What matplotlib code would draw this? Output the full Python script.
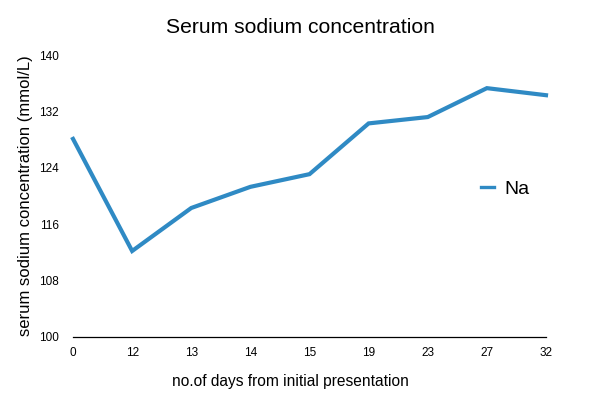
import matplotlib.pyplot as plt

plt.rcParams['font.family'] = ['Liberation Sans', 'DejaVu Sans']

days = ["0", "12", "13", "14", "15", "19", "23", "27", "32"]
sodium = [128.1, 112.2, 118.3, 121.3, 123.1, 130.3, 131.2, 135.3, 134.3]
yticks = [100, 108, 116, 124, 132, 140]

fig = plt.figure(figsize=(6, 3.93), dpi=100)
ax = fig.add_axes([0.1217, 0.1425, 0.7883, 0.7175])

ax.plot(range(len(days)), sodium, color="#2f8ac4", linewidth=3.0,
        solid_joinstyle="miter", label="Na", clip_on=False)

ax.set_xlim(0, len(days) - 1)
ax.set_ylim(100, 140)
ax.set_xticks(range(len(days)))
ax.set_xticklabels(days)
ax.set_yticks(yticks)
ax.tick_params(length=0, labelsize=8.5)
ax.tick_params(axis="x", pad=7)
ax.tick_params(axis="y", pad=10)

for s in ["top", "right", "left"]:
    ax.spines[s].set_visible(False)
ax.spines["bottom"].set_linewidth(0.9)

ax.set_ylabel("serum sodium concentration (mmol/L)", fontsize=12)
ax.yaxis.set_label_coords(-0.085, 0.5)
ax.set_xlabel("no.of days from initial presentation", fontsize=11.2)
ax.xaxis.set_label_coords(0.46, -0.13)

fig.suptitle("Serum sodium concentration", fontsize=15.2, y=0.955)

leg = ax.legend(loc="center left", bbox_to_anchor=(0.825, 0.525), frameon=False,
                fontsize=14, handlelength=0.7, handletextpad=0.5)
for h in leg.get_lines():
    h.set_linewidth(2.4)

fig.savefig("out.png", dpi=100)
